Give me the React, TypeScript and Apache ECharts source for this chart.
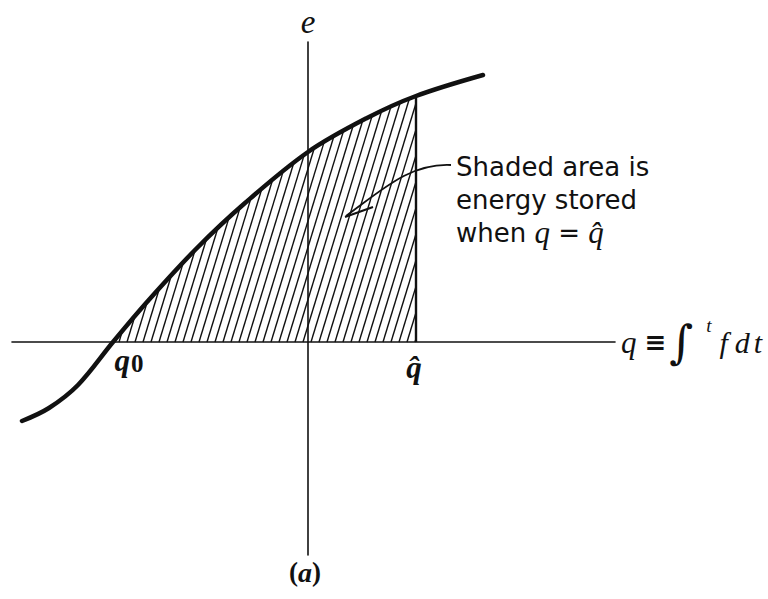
import React, { useEffect, useRef } from "react";
import * as echarts from "echarts";

// Curve e(q) (q: charge, e: effort)
const curveQ = [-2.86, -2.59, -2.3, -1.95, -1.61, -1.12, -0.63, 0, 0.59, 1.08, 1.75];
const curveE = [-0.79, -0.66, -0.43, 0, 0.4, 0.93, 1.39, 1.9, 2.24, 2.46, 2.67];
const q0 = -1.95;
const qHat = 1.08;
const xRange = [-2.96, 3.07];
const yRange = [-2.13, 3.0];

function eAt(q: number): number {
  for (let i = 0; i < curveQ.length - 1; i++) {
    if (q >= curveQ[i] && q <= curveQ[i + 1]) {
      const t = (q - curveQ[i]) / (curveQ[i + 1] - curveQ[i]);
      return curveE[i] + t * (curveE[i + 1] - curveE[i]);
    }
  }
  return 0;
}

const INK = "#111";

function renderHatch(params: any, api: any) {
  const pts = curveQ.map((q, i) => api.coord([q, curveE[i]]));
  const [ax, ay] = api.coord([q0, 0]);
  const [bx] = api.coord([qHat, 0]);
  const topY = api.coord([qHat, eAt(qHat)])[1];
  const theta = (73 * Math.PI) / 180;
  const dx = Math.cos(theta);
  const dy = -Math.sin(theta);
  const children: any[] = [];
  for (let sx = ax + 6; sx < bx - 1; sx += 8) {
    let best = Infinity;
    for (let i = 0; i < pts.length - 1; i++) {
      const px = pts[i][0], py = pts[i][1];
      const ex = pts[i + 1][0] - px, ey = pts[i + 1][1] - py;
      const denom = dx * ey - dy * ex;
      if (Math.abs(denom) < 1e-9) continue;
      const wx = px - sx, wy = py - ay;
      const t = (wx * ey - wy * ex) / denom;
      const u = (wx * dy - wy * dx) / denom;
      if (t > 0.5 && u >= 0 && u <= 1) best = Math.min(best, t);
    }
    const tq = (bx - sx) / dx;
    const yq = ay + tq * dy;
    if (tq > 0 && yq >= topY - 0.5) best = Math.min(best, tq);
    if (!isFinite(best)) continue;
    children.push({
      type: "line",
      shape: { x1: sx, y1: ay, x2: sx + best * dx, y2: ay + best * dy },
      style: { stroke: INK, lineWidth: 1.4 },
    });
  }
  return { type: "group", children };
}

export default function App() {
  const ref = useRef<HTMLDivElement>(null);
  useEffect(() => {
    if (!ref.current) return;
    const chart = echarts.init(ref.current, undefined, { renderer: "svg" });
    const serif = "Liberation Serif";
    const sans = "DejaVu Sans";
    chart.setOption({
      animation: false,
      backgroundColor: "#fff",
      grid: { left: 12, right: 153, top: 42, bottom: 44 },
      xAxis: {
        type: "value",
        min: xRange[0],
        max: xRange[1],
        axisLine: { onZero: true, lineStyle: { color: INK, width: 1.6 } },
        axisTick: { show: false },
        axisLabel: { show: false },
        splitLine: { show: false },
        name: "{q|q}{eq|≡}{int|∫}{t|t}{f|f}{d|d}{d2|t}",
        nameLocation: "end",
        nameGap: 6,
        nameTextStyle: {
          rich: {
            q: { fontFamily: serif, fontStyle: "italic", fontSize: 31, color: INK, padding: [0, 8, 0, 0] },
            eq: { fontFamily: "DejaVu Sans", fontWeight: "bold", fontSize: 26, color: INK },
            int: { fontFamily: "DejaVu Serif", fontSize: 46, color: INK, padding: [0, 0, 0, 3] },
            t: { fontFamily: serif, fontStyle: "italic", fontSize: 19, color: INK, padding: [0, 8, 34, 13] },
            f: { fontFamily: serif, fontStyle: "italic", fontSize: 30, color: INK, padding: [0, 7, 0, 0] },
            d: { fontFamily: serif, fontStyle: "italic", fontSize: 30, color: INK, padding: [0, 4, 0, 0] },
            d2: { fontFamily: serif, fontStyle: "italic", fontSize: 30, color: INK },
          },
        },
      },
      yAxis: {
        type: "value",
        min: yRange[0],
        max: yRange[1],
        axisLine: { onZero: true, lineStyle: { color: INK, width: 1.6 } },
        axisTick: { show: false },
        axisLabel: { show: false },
        splitLine: { show: false },
        name: "e",
        nameLocation: "end",
        nameGap: 4,
        nameTextStyle: { fontFamily: serif, fontStyle: "italic", fontSize: 33, color: INK },
      },
      graphic: [
        {
          type: "text",
          left: 456,
          top: 150,
          style: {
            text: "Shaded area is\nenergy stored\n{s|when }{q|q}{s| = }{q|q\u0302}",
            font: `26px "${sans}"`,
            fill: INK,
            lineHeight: 33,
            rich: {
              s: { fontFamily: sans, fontSize: 26, lineHeight: 33, fill: INK },
              q: { fontFamily: serif, fontStyle: "italic", fontSize: 31, lineHeight: 33, fill: INK },
            },
          },
        },
        {
          type: "bezierCurve",
          shape: { x1: 451, y1: 165, cpx1: 410, cpy1: 163, cpx2: 382, cpy2: 190, x2: 346, y2: 216 },
          style: { stroke: INK, lineWidth: 1.8, fill: "none" },
        },
        {
          type: "polyline",
          shape: { points: [[345, 217], [373, 207]] },
          style: { stroke: INK, lineWidth: 2 },
        },
        {
          type: "text",
          x: 305,
          y: 572,
          style: {
            text: "({a|a})",
            font: `bold 27px "${serif}"`,
            fill: INK,
            align: "center",
            verticalAlign: "middle",
            rich: { a: { fontFamily: serif, fontStyle: "italic", fontWeight: "bold", fontSize: 28, fill: INK } },
          },
        },
      ],
      series: [
        {
          type: "custom",
          coordinateSystem: "cartesian2d",
          data: [[0, 0]],
          renderItem: renderHatch,
          silent: true,
          clip: false,
          z: 1,
        },
        {
          type: "line",
          data: [[qHat, 0], [qHat, eAt(qHat)]],
          symbol: "none",
          lineStyle: { color: INK, width: 2.4 },
          silent: true,
          z: 2,
        },
        {
          type: "line",
          data: curveQ.map((q, i) => [q, curveE[i]]),
          smooth: 0.35,
          symbol: "none",
          lineStyle: { color: INK, width: 4.5, cap: "round" },
          silent: true,
          z: 3,
        },
        {
          type: "scatter",
          symbolSize: 0,
          silent: true,
          z: 4,
          itemStyle: { opacity: 1 },
          label: {
            show: true,
            position: "bottom",
            color: INK,
            opacity: 1,
            rich: {
              q: { fontFamily: serif, fontStyle: "italic", fontWeight: "bold", fontSize: 31, color: INK },
              z: { fontFamily: serif, fontWeight: "bold", fontSize: 25, color: INK, padding: [6, 0, 0, 1] },
            },
          },
          data: [
            { value: [q0, 0], label: { formatter: "{q|q}{z|0}", offset: [16, -2] } },
            { value: [qHat, 0], label: { formatter: "{q|q\u0302}", offset: [-2, 5] } },
          ],
        },
      ],
    });
    return () => chart.dispose();
  }, []);
  return (
    <div
      ref={ref}
      style={{ position: "fixed", left: 0, top: 0, width: 768, height: 599, background: "#fff" }}
    />
  );
}
